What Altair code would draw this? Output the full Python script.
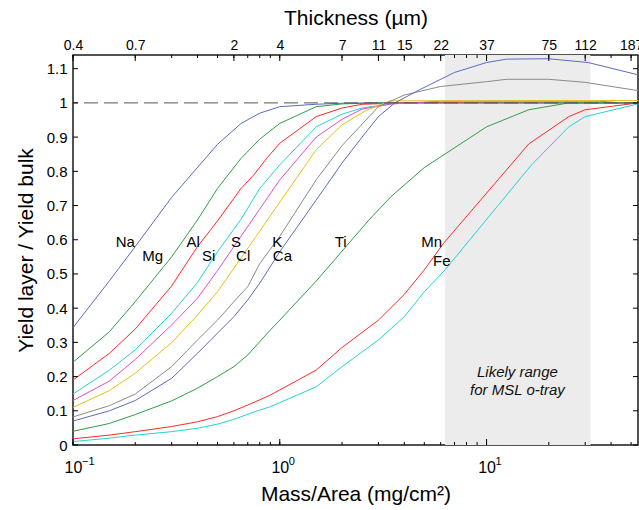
import altair as alt
import pandas as pd

# ---------------- data ----------------
elements = ["Na", "Mg", "Al", "Si", "S", "Cl", "K", "Ca", "Ti", "Mn", "Fe"]
colors = ["#5b6cc0", "#2f9e48", "#ff2a2a", "#26d2d6", "#e24fd0", "#e4c21a",
          "#8a8a8a", "#5b6cc0", "#2f9e48", "#ff2a2a", "#26d2d6"]

na_m = [0.1, 0.15, 0.2, 0.3, 0.5, 0.65, 0.8, 1.0, 1.5, 2, 3, 54]
na_v = [0.343, 0.48, 0.58, 0.724, 0.879, 0.94, 0.97, 0.989, 0.996, 0.999, 1.0, 1.0]

mg_m = [0.1, 0.15, 0.2, 0.3, 0.4, 0.5, 0.65, 0.8, 1.0, 1.5, 2, 3, 54]
mg_v = [0.242, 0.331, 0.419, 0.55, 0.658, 0.75, 0.838, 0.894, 0.94, 0.989, 0.997, 1.0, 1.0]

al_m = [0.1, 0.15, 0.2, 0.3, 0.4, 0.5, 0.65, 0.75, 0.87, 1.0, 1.5, 2, 2.5, 4, 54]
al_v = [0.19, 0.268, 0.339, 0.465, 0.58, 0.655, 0.75, 0.79, 0.84, 0.882, 0.96, 0.985, 0.996, 1.0, 1.0]

si_m = [0.1, 0.15, 0.2, 0.3, 0.4, 0.5, 0.65, 0.8, 1.0, 1.5, 2, 2.5, 3.5, 54]
si_v = [0.149, 0.219, 0.278, 0.385, 0.475, 0.565, 0.66, 0.75, 0.819, 0.93, 0.967, 0.985, 0.998, 1.0]

s_m = [0.1, 0.15, 0.2, 0.3, 0.4, 0.5, 0.6, 0.75, 1.0, 1.5, 2, 2.5, 3.5, 6, 35, 45, 54]
s_v = [0.13, 0.187, 0.25, 0.351, 0.429, 0.51, 0.58, 0.665, 0.775, 0.9, 0.952, 0.982, 0.997,
       1.005, 1.005, 1.0, 1.0]

cl_m = [0.1, 0.15, 0.2, 0.3, 0.4, 0.5, 1.5, 2, 2.6, 3.4, 54]
cl_v = [0.11, 0.159, 0.21, 0.299, 0.38, 0.448, 0.863, 0.936, 0.977, 1.006, 1.007]

k_m = [0.1, 0.15, 0.2, 0.3, 0.4, 0.5, 0.6, 0.7, 0.8, 1.0, 1.5, 2, 3, 4, 6, 10, 12.5, 20, 30, 54]
k_v = [0.082, 0.115, 0.149, 0.229, 0.307, 0.365, 0.419, 0.463, 0.53, 0.61, 0.775, 0.875,
       0.989, 1.023, 1.048, 1.062, 1.069, 1.069, 1.06, 1.036]

ca_m = [0.1, 0.15, 0.2, 0.3, 0.4, 0.5, 0.6, 0.7, 0.8, 1.0, 1.5, 2, 2.5, 3, 3.6, 4.8, 7, 10,
        12.5, 20, 31, 54]
ca_v = [0.07, 0.10, 0.13, 0.195, 0.268, 0.327, 0.375, 0.424, 0.473, 0.565, 0.716, 0.824,
        0.9, 0.96, 1.0, 1.04, 1.089, 1.118, 1.128, 1.129, 1.118, 1.082]

ti_m = [0.1, 0.15, 0.2, 0.3, 0.4, 0.5, 0.6, 0.7, 0.8, 0.9, 1.0, 1.5, 2.7, 3.45, 5, 10, 16, 25, 54]
ti_v = [0.04, 0.063, 0.089, 0.129, 0.166, 0.2, 0.229, 0.263, 0.302, 0.336, 0.365, 0.479,
        0.658, 0.726, 0.811, 0.93, 0.98, 1.0, 1.0]

mn_m = [0.1, 0.15, 0.2, 0.3, 0.4, 0.5, 0.6, 0.7, 0.8, 0.9, 1.0, 1.5, 2, 3, 4, 5, 6.2, 16,
        25, 30, 54]
mn_v = [0.018, 0.029, 0.039, 0.054, 0.068, 0.083, 0.10, 0.117, 0.132, 0.146, 0.161, 0.219,
        0.285, 0.365, 0.44, 0.512, 0.59, 0.88, 0.96, 0.98, 1.0]

fe_m = [0.1, 0.15, 0.2, 0.3, 0.4, 0.5, 0.6, 0.7, 0.8, 0.9, 1.0, 1.5, 2, 3, 4, 5, 6.3, 16.5,
        25, 30, 54]
fe_v = [0.01, 0.02, 0.029, 0.039, 0.049, 0.061, 0.075, 0.09, 0.102, 0.112, 0.124, 0.17,
        0.229, 0.307, 0.375, 0.448, 0.512, 0.819, 0.93, 0.96, 0.997]

series_m = [na_m, mg_m, al_m, si_m, s_m, cl_m, k_m, ca_m, ti_m, mn_m, fe_m]
series_v = [na_v, mg_v, al_v, si_v, s_v, cl_v, k_v, ca_v, ti_v, mn_v, fe_v]

# element label positions (mass, ratio)
label_m = [0.179, 0.243, 0.381, 0.453, 0.615, 0.665, 0.973, 1.03, 1.97, 5.42, 6.08]
label_v = [0.594, 0.553, 0.594, 0.553, 0.594, 0.553, 0.594, 0.553, 0.594, 0.594, 0.539]

shade_lo, shade_hi = 6.3, 31.8
note_lines = ["Likely range", "for MSL o-tray"]
note_m = [14.1, 14.1]
note_v = [0.214, 0.161]

# top axis: mass positions and thickness labels (micrometres)
thick_mass = [0.1, 0.2, 0.6, 1, 2, 3, 4, 6, 10, 20, 30, 50]
thick_labels = ["0.4", "0.7", "2", "4", "7", "11", "15", "22", "37", "75", "112", "187"]

decades = [0.1, 1, 10]
decade_exp = ["\u22121", "0", "1"]
minor_ticks = [0.1, 0.2, 0.3, 0.4, 0.5, 0.6, 0.7, 0.8, 0.9, 1, 2, 3, 4, 5, 6, 7, 8, 9,
               10, 20, 30, 40, 50]
y_ticks = [0, 0.1, 0.2, 0.3, 0.4, 0.5, 0.6, 0.7, 0.8, 0.9, 1.0, 1.1]

# ---------------- chart ----------------
W, H = 565, 390
FONT = "Liberation Sans"

rows = []
for el, ms, vs in zip(elements, series_m, series_v):
    for m, v in zip(ms, vs):
        rows.append({"element": el, "m": m, "v": v})
df = pd.DataFrame(rows)

xs = alt.Scale(type="log", domain=[0.1, 54], nice=False)
ys = alt.Scale(domain=[0, 1.14], nice=False, zero=False)

shade = alt.Chart(pd.DataFrame({"lo": [shade_lo], "hi": [shade_hi]})).mark_rect(
    color="#ececec").encode(
    x=alt.X("lo:Q", scale=xs, axis=None), x2="hi:Q")

note = alt.Chart(pd.DataFrame({"t": note_lines, "m": note_m, "v": note_v})).mark_text(
    font=FONT, fontSize=15, fontStyle="italic", color="#111").encode(
    x=alt.X("m:Q", scale=xs, axis=None), y=alt.Y("v:Q", scale=ys, axis=None), text="t:N")

bottom_axis = alt.Axis(orient="bottom", values=decades, labelExpr="'10'", ticks=False,
                       domain=False, grid=False, labelFontSize=16, labelPadding=14,
                       labelFlush=False,
                       title="Mass/Area (mg/cm\u00b2)", titleFontSize=21, titlePadding=8)

y_axis = alt.Axis(orient="left", values=y_ticks, format="~g", ticks=False, domain=False,
                  grid=False, labelFontSize=15, labelPadding=6, labelFlush=False,
                  title="Yield layer / Yield bulk", titleFontSize=21, titlePadding=10)

lines = alt.Chart(df).mark_line(strokeWidth=1).encode(
    x=alt.X("m:Q", scale=xs, axis=bottom_axis),
    y=alt.Y("v:Q", scale=ys, axis=y_axis),
    color=alt.Color("element:N", scale=alt.Scale(domain=elements, range=colors), legend=None),
    detail="element:N",
    order="m:Q",
)

dashed = alt.Chart(pd.DataFrame({"v": [1.0]})).mark_rule(
    strokeDash=[14, 6], color="#555555", strokeWidth=1).encode(
    y=alt.Y("v:Q", scale=ys, axis=None))

labels = alt.Chart(pd.DataFrame({"t": elements, "m": label_m, "v": label_v})).mark_text(
    font=FONT, fontSize=15, color="black").encode(
    x=alt.X("m:Q", scale=xs, axis=None), y=alt.Y("v:Q", scale=ys, axis=None), text="t:N")

exp_text = alt.Chart(pd.DataFrame({"m": decades, "t": decade_exp})).mark_text(
    font=FONT, fontSize=11, align="left", baseline="top", dx=9, color="black").encode(
    x=alt.X("m:Q", scale=xs, axis=None), y=alt.value(H + 11), text="t:N")

top_expr = " : ".join(f"datum.value == {m} ? '{t}'" for m, t in zip(thick_mass, thick_labels)) + " : ''"
top_axis = alt.Axis(orient="top", values=thick_mass, labelExpr=top_expr, ticks=False,
                    domain=False, grid=False, labelFontSize=14, labelPadding=3,
                    labelOverlap=False, labelFlush=False, title="Thickness (\u00b5m)",
                    titleFontSize=21, titlePadding=10)

tick_df = pd.DataFrame({"m": minor_ticks})
major_df = pd.DataFrame({"m": decades})
thick_df = pd.DataFrame({"m": thick_mass})
ytick_df = pd.DataFrame({"v": y_ticks})

tk = dict(color="black", strokeWidth=1)
bot_minor = alt.Chart(tick_df).mark_rule(**tk).encode(
    x=alt.X("m:Q", scale=xs, axis=None), y=alt.value(H), y2=alt.value(H - 3))
bot_major = alt.Chart(major_df).mark_rule(**tk).encode(
    x=alt.X("m:Q", scale=xs, axis=None), y=alt.value(H), y2=alt.value(H - 6))
top_minor = alt.Chart(tick_df).mark_rule(**tk).encode(
    x=alt.X("m:Q", scale=xs, axis=None), y=alt.value(0), y2=alt.value(3))
top_major = alt.Chart(thick_df).mark_rule(**tk).encode(
    x=alt.X("m:Q", scale=xs, axis=top_axis), y=alt.value(0), y2=alt.value(6))
left_ticks = alt.Chart(ytick_df).mark_rule(**tk).encode(
    y=alt.Y("v:Q", scale=ys, axis=None), x=alt.value(0), x2=alt.value(5))
right_ticks = alt.Chart(ytick_df).mark_rule(**tk).encode(
    y=alt.Y("v:Q", scale=ys, axis=None), x=alt.value(W - 5), x2=alt.value(W))

chart = alt.layer(
    shade, note, lines, dashed, labels, exp_text,
    bot_minor, bot_major, top_minor, top_major, left_ticks, right_ticks,
).resolve_axis(x="independent", y="independent").properties(
    width=W, height=H,
    autosize=alt.AutoSizeParams(type="none"),
    padding={"left": 73, "top": 55, "right": 1, "bottom": 65},
).configure(font=FONT).configure_view(
    stroke="#1a1a1a", strokeWidth=1.5
).configure_axis(
    labelColor="black", titleColor="black", titleFontWeight="normal", labelFont=FONT,
    titleFont=FONT,
)

chart.save("out.html", embed_options={"renderer": "svg", "actions": False})
